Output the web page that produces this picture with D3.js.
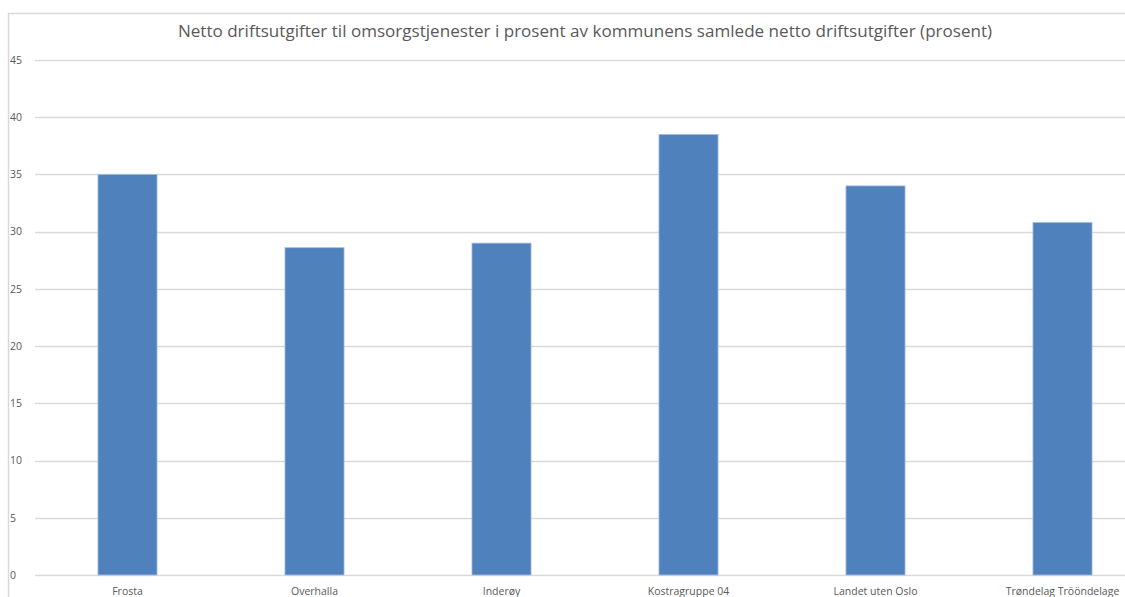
<!DOCTYPE html>
<html>
<head>
<meta charset="utf-8">
<script src="https://cdn.jsdelivr.net/npm/d3@7"></script>
<style>
  html, body { margin: 0; padding: 0; background: #fff; overflow: hidden; }
  text { font-family: "Open Sans", "Noto Sans", sans-serif; fill: #595959; }
</style>
</head>
<body>
<div id="chart"></div>
<script>
const width = 1125
const height = 597

const title = 'Netto driftsutgifter til omsorgstjenester i prosent av kommunens samlede netto driftsutgifter (prosent)'
const categories = ['Frosta', 'Overhalla', 'Inderøy', 'Kostragruppe 04', 'Landet uten Oslo', 'Trøndelag Trööndelage']
const values = [35.0, 28.6, 29.0, 38.5, 34.0, 30.8]
const yTicks = [0, 5, 10, 15, 20, 25, 30, 35, 40, 45]

// plot area runs past the right edge of the picture, like the cropped original
const plot = { left: 34, right: 1156, top: 60, bottom: 575 }

const svg = d3.select('#chart')
  .append('svg')
  .attr('width', width)
  .attr('height', height)

// chart frame
svg.append('rect')
  .attr('x', 8.5)
  .attr('y', 13.5)
  .attr('width', 1154)
  .attr('height', 620)
  .attr('fill', 'none')
  .attr('stroke', '#d9d9d9')
  .attr('stroke-width', 1.5)

const x = d3.scaleBand()
  .domain(categories)
  .range([plot.left, plot.right])
  .paddingInner(0.684)
  .paddingOuter(0.342)

const y = d3.scaleLinear()
  .domain([0, 45])
  .range([plot.bottom, plot.top])

// grid lines
svg.append('g')
  .selectAll('line')
  .data(yTicks)
  .enter().append('line')
  .attr('x1', plot.left + 1)
  .attr('x2', plot.right)
  .attr('y1', d => Math.round(y(d)) + 0.5)
  .attr('y2', d => Math.round(y(d)) + 0.5)
  .attr('stroke', '#d9d9d9')
  .attr('stroke-width', 1.3)

// y labels
svg.append('g')
  .selectAll('text')
  .data(yTicks)
  .enter().append('text')
  .attr('x', 10)
  .attr('y', d => y(d) + 3.8)
  .attr('font-size', 10.5)
  .text(d => d)

// bars
svg.append('g')
  .selectAll('rect')
  .data(values)
  .enter().append('rect')
  .attr('x', (d, i) => x(categories[i]))
  .attr('y', d => y(d))
  .attr('width', x.bandwidth())
  .attr('height', d => y(0) - y(d))
  .attr('fill', '#4f81bd')
  .attr('stroke', '#a7bfde')
  .attr('stroke-width', 0.8)

// category labels
svg.append('g')
  .selectAll('text')
  .data(categories)
  .enter().append('text')
  .attr('x', d => x(d) + x.bandwidth() / 2)
  .attr('y', 595)
  .attr('text-anchor', 'middle')
  .attr('font-size', 10.5)
  .text(d => d)

// title, sized to span the same width as the original
const t = svg.append('text')
  .attr('x', 585)
  .attr('y', 37)
  .attr('text-anchor', 'middle')
  .attr('font-size', 16)
  .text(title)
const w = t.node().getComputedTextLength()
t.attr('font-size', 16 * 815 / w)
</script>
</body>
</html>
